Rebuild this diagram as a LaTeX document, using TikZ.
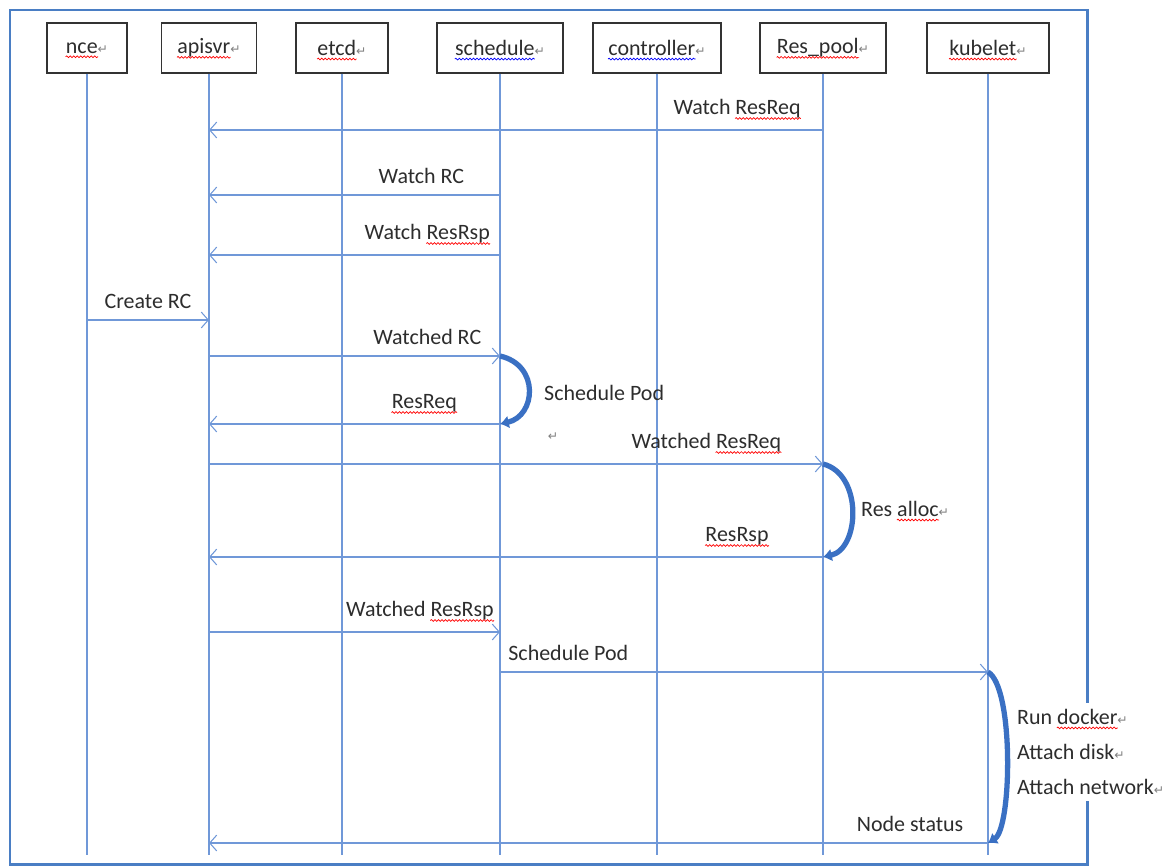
\documentclass[tikz,border=0pt]{standalone}
\usepackage{fontspec}
\setmainfont{Carlito}
\newfontfamily\symfont{DejaVu Sans}
\usetikzlibrary{arrows.meta,positioning,decorations.pathmorphing}
\definecolor{lifeblue}{RGB}{112,152,216}
\definecolor{arcblue}{RGB}{58,112,195}
\definecolor{frameblue}{RGB}{74,126,196}
\definecolor{txt}{RGB}{45,45,45}
\newcommand{\retmark}{{\symfont\fontsize{7}{8}\selectfont\textcolor{gray}{↵}}}
\newcommand{\spell}[2]{\tikz[baseline=(w.base)]{\node[draw=none, fill=none, inner sep=0pt, minimum size=0pt, anchor=center, text=txt] (w) {#2};
	\draw[overlay, #1, -, line width=0.4pt, decorate, decoration={snake, amplitude=0.5pt, segment length=2pt}] ([yshift=-2pt]w.base west) -- ([yshift=-2pt]w.base east);}}
\newcommand{\spellr}[1]{\spell{red}{#1}}
\newcommand{\spellb}[1]{\spell{blue}{#1}}

\begin{document}
\begin{tikzpicture}[
		x=0.02cm, y=-0.02cm,
		every node/.style={font=\fontsize{12.5}{15}\selectfont, text=txt},
		actor/.style={draw=black!80, thick, minimum height=1cm, inner sep=2pt},
		life/.style={draw=lifeblue, semithick},
		msg/.style={draw=lifeblue, semithick, -{Straight Barb[length=4pt,width=9pt]}},
		self/.style={draw=arcblue, line width=3pt, -{Latex[length=5pt,width=7.5pt]}},
		lbl/.style={above=3pt},
		note/.style={anchor=west, align=left},
	]
		\useasboundingbox (0,0) rectangle (1171,866);
		\draw[frameblue, line width=1.7pt] (10,10) rectangle (1087,864);
		
		\node[actor, minimum width=1.6cm] (nce) at (87,48) {\spellr{nce}\retmark};
		\node[actor, minimum width=1.9cm] (api) at (209,48) {\spellr{apisvr}\retmark};
		\node[actor, minimum width=1.84cm] (etcd) at (342,48) {\spellr{etcd}\retmark};
		\node[actor, minimum width=2.52cm] (sch) at (500,48) {\spellb{schedule}\retmark};
		\node[actor, minimum width=2.56cm] (ctl) at (657,48) {\spellb{controller}\retmark};
		\node[actor, minimum width=2.52cm] (rp) at (823,48) {\spellr{Res\_pool}\retmark};
		\node[actor, minimum width=2.44cm] (kl) at (988,48) {\spellr{kubelet}\retmark};
		
		\coordinate (bot) at (0,855);
		\draw[life] (nce.south) -- (nce.south |- bot);
		\draw[life] (api.south) -- (api.south |- bot);
		\draw[life] (etcd.south) -- (etcd.south |- bot);
		\draw[life] (sch.south) -- (sch.south |- bot);
		\draw[life] (ctl.south) -- (ctl.south |- bot);
		\draw[life] (rp.south) -- (rp.south |- bot);
		\draw[life] (kl.south) -- (kl.south |- bot);
		
		\path (0,130) coordinate (m1) (0,195) coordinate (m2) (0,255) coordinate (m3)
			(0,320) coordinate (m4) (0,356) coordinate (m5) (0,424) coordinate (m6)
			(0,464) coordinate (m7) (0,557) coordinate (m8) (0,632) coordinate (m9)
			(0,672) coordinate (m10) (0,843) coordinate (m11);
		
		\draw[msg] (rp |- m1) -- (api |- m1) node[lbl, pos=0.14] {Watch \spellr{ResReq}};
		\draw[msg] (sch |- m2) -- (api |- m2) node[lbl, pos=0.27] {Watch RC};
		\draw[msg] (sch |- m3) -- (api |- m3) node[lbl, pos=0.25] {Watch \spellr{ResRsp}};
		\draw[msg] (nce |- m4) -- (api |- m4) node[lbl, midway] {Create RC};
		\draw[msg] (api |- m5) -- (sch |- m5) node[lbl, pos=0.75] {Watched RC};
		\draw[msg] (sch |- m6) -- (api |- m6) node[lbl, pos=0.26] {\spellr{ResReq}};
		\draw[msg] (api |- m7) -- (rp |- m7) node[lbl, pos=0.81] {Watched \spellr{ResReq}};
		\draw[msg] (rp |- m8) -- (api |- m8) node[lbl, pos=0.14] {\spellr{ResRsp}};
		\draw[msg] (api |- m9) -- (sch |- m9) node[lbl, pos=0.725] {Watched \spellr{ResRsp}};
		\draw[msg] (sch |- m10) -- (kl |- m10) node[lbl, pos=0.14] {Schedule Pod};
		\draw[msg] (kl |- m11) -- (api |- m11) node[lbl, pos=0.1] {Node status};
		
		\draw[self] (sch |- m5) .. controls +(40,9) and +(36,-8) .. (sch |- m6);
		\draw[self] (rp |- m7) .. controls +(40,10) and +(37,-8) .. (rp |- m8);
		\draw[self] (kl |- m10) .. controls +(26,15) and +(24,-15) .. (kl |- m11);
		
		\node[note] (sp) at (538,393) {Schedule Pod};
		\node (stray) at (553,437) {\retmark};
		\node[note] (ra) at (855,509) {Res \spellr{alloc}\retmark};
		\node[note, fill=white, font=\fontsize{12.5}{20}\selectfont] (kact) at (1011,752) {Run \spellr{docker}\retmark\\Attach disk\retmark\\Attach network\retmark};
	\end{tikzpicture}
\end{document}
